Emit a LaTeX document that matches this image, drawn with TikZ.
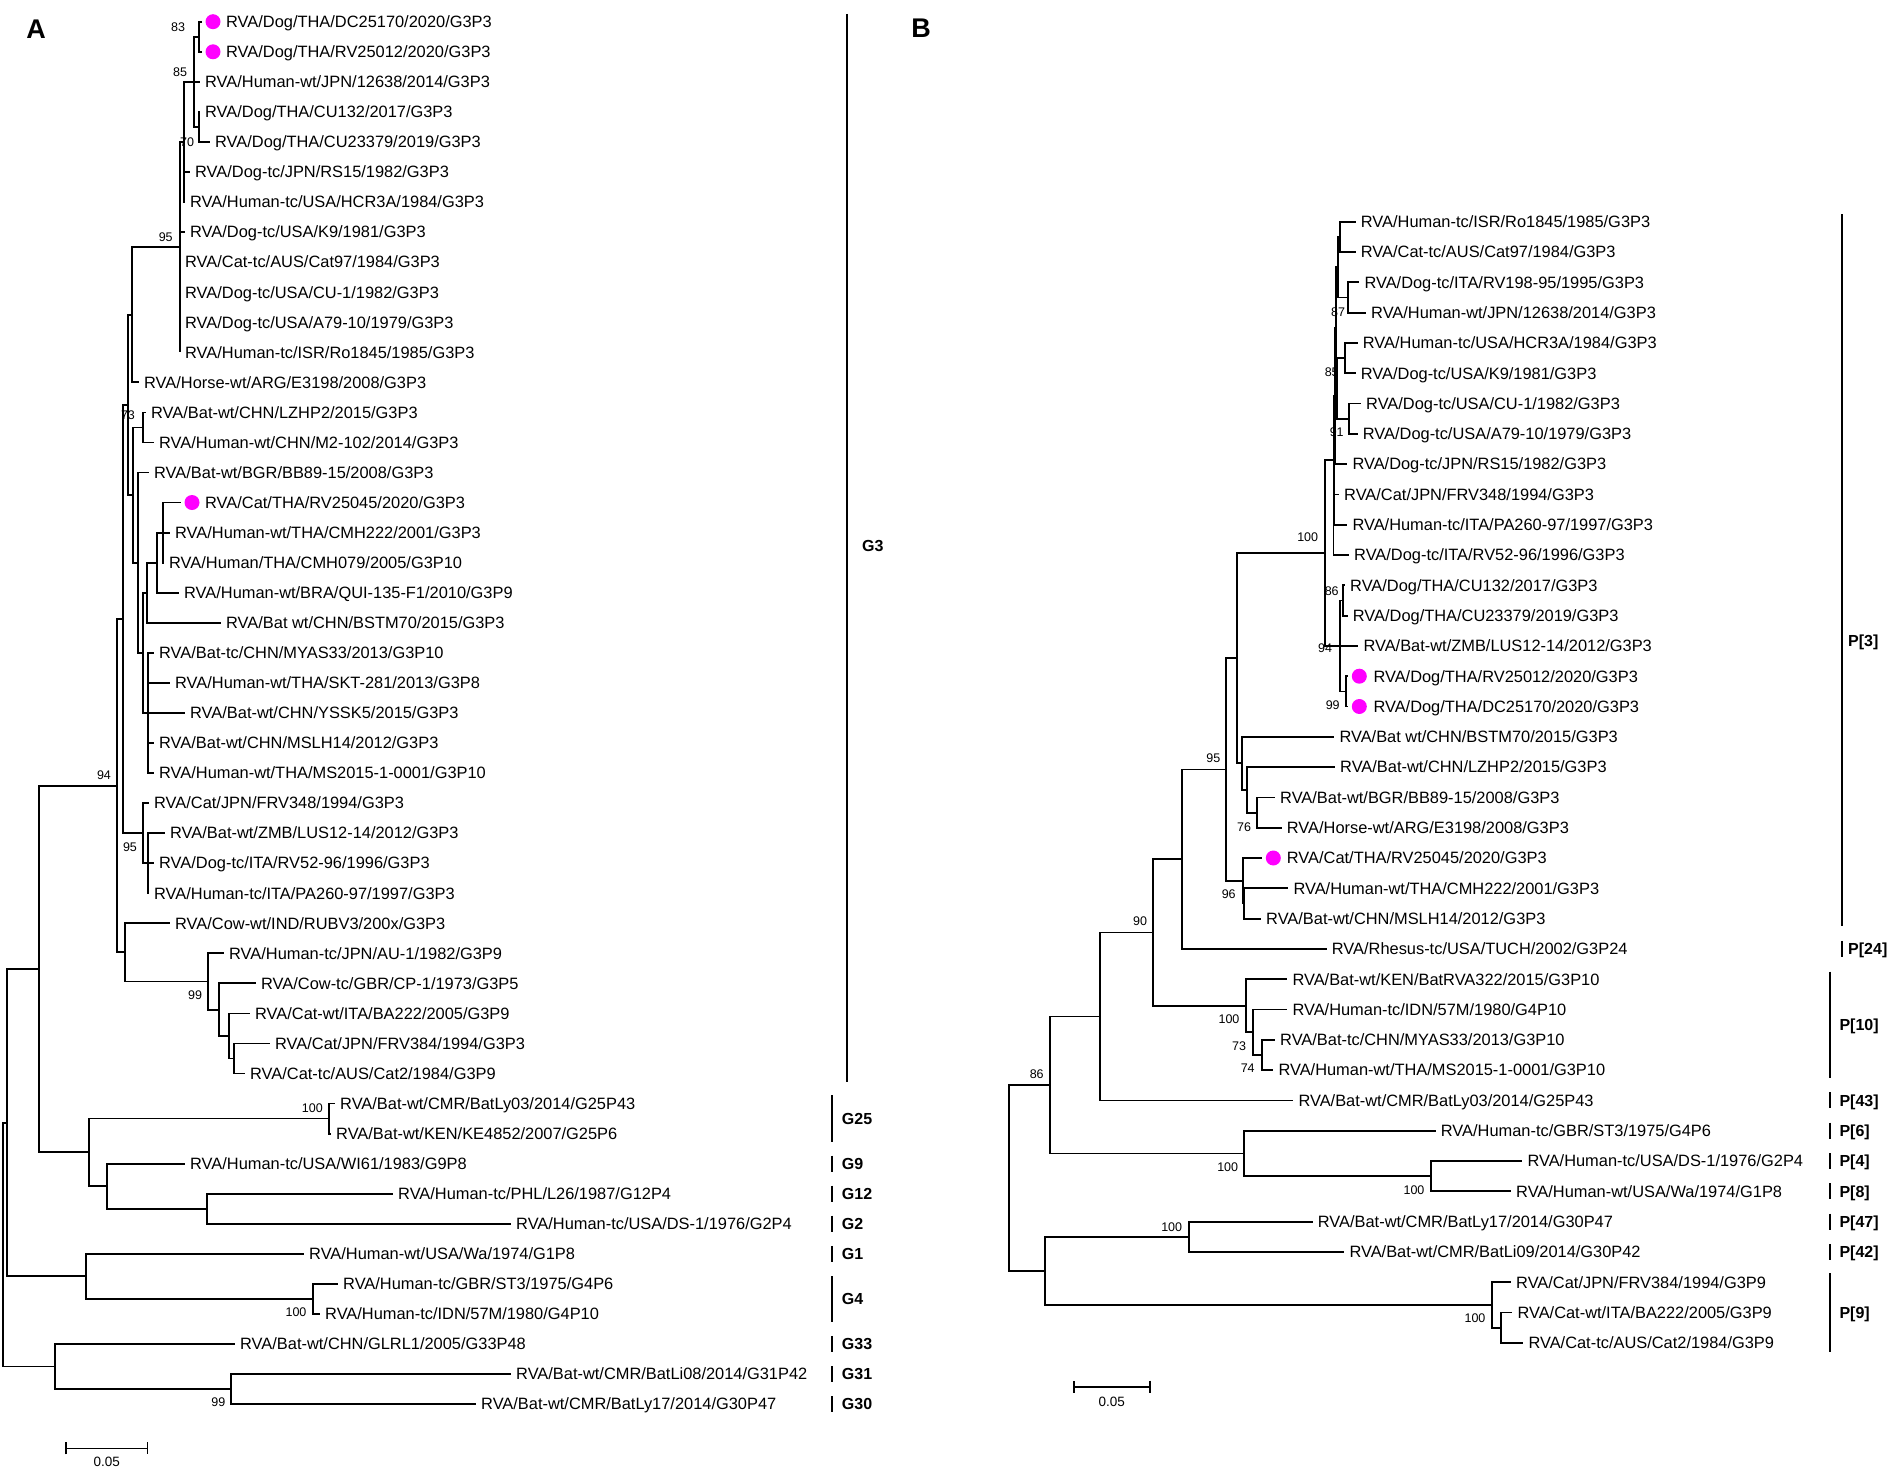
\documentclass[tikz,border=0pt]{standalone}
\usepackage{fontspec}
\setmainfont{Liberation Sans}
\usetikzlibrary{arrows.meta}
\definecolor{dotpink}{RGB}{255,0,255}
\tikzset{
  elbow/.style={line width=1.8pt,to path={|- (\tikztotarget) \tikztonodes}},
  leaf/.style={anchor=west,inner xsep=5pt,inner ysep=0pt,text height=11.7pt,text depth=0pt,font=\fontsize{16.4}{18}\selectfont},
  boot/.style={inner sep=0pt,text height=9pt,text depth=0pt,font=\fontsize{12.5}{14}\selectfont},
  pinkdot/.style={circle,fill=dotpink,inner sep=0pt,minimum size=15pt,outer sep=4pt},
  cladelab/.style={anchor=west,inner sep=0pt,text height=11.5pt,text depth=0pt,font=\fontsize{16}{18}\selectfont\bfseries},
  cbar/.style={line width=2pt},
  scalebar/.style={line width=1.6pt,arrows={Bar[width=12pt]-Bar[width=12pt]}},
  scalelab/.style={inner sep=0pt,font=\fontsize{13.5}{15}\selectfont},
  panel/.style={inner sep=0pt,font=\fontsize{27}{30}\selectfont\bfseries}
}
\begin{document}
\begin{tikzpicture}[x=1pt,y=-1pt,every edge/.append style={line width=1.8pt}]
  \useasboundingbox (0,0) rectangle (1889,1469);
  \node[panel] (pA) at (36,29) {A};
  \node[panel] (pB) at (921,28) {B};

  % panel A leaves
  \node[pinkdot] (a1d) at (213,21.7) {};
  \node[leaf] (a1) at (221,21.7) {RVA/Dog/THA/DC25170/2020/G3P3};
  \node[pinkdot] (a2d) at (213,51.8) {};
  \node[leaf] (a2) at (221,51.8) {RVA/Dog/THA/RV25012/2020/G3P3};
  \node[leaf] (a3) at (200,81.8) {RVA/Human-wt/JPN/12638/2014/G3P3};
  \node[leaf] (a4) at (200,111.9) {RVA/Dog/THA/CU132/2017/G3P3};
  \node[leaf] (a5) at (210,141.9) {RVA/Dog/THA/CU23379/2019/G3P3};
  \node[leaf] (a6) at (190,172.0) {RVA/Dog-tc/JPN/RS15/1982/G3P3};
  \node[leaf] (a7) at (185,202.0) {RVA/Human-tc/USA/HCR3A/1984/G3P3};
  \node[leaf] (a8) at (185,232.1) {RVA/Dog-tc/USA/K9/1981/G3P3};
  \node[leaf] (a9) at (180,262.1) {RVA/Cat-tc/AUS/Cat97/1984/G3P3};
  \node[leaf] (a10) at (180,292.2) {RVA/Dog-tc/USA/CU-1/1982/G3P3};
  \node[leaf] (a11) at (180,322.2) {RVA/Dog-tc/USA/A79-10/1979/G3P3};
  \node[leaf] (a12) at (180,352.3) {RVA/Human-tc/ISR/Ro1845/1985/G3P3};
  \node[leaf] (a13) at (139,382.3) {RVA/Horse-wt/ARG/E3198/2008/G3P3};
  \node[leaf] (a14) at (146,412.4) {RVA/Bat-wt/CHN/LZHP2/2015/G3P3};
  \node[leaf] (a15) at (154,442.4) {RVA/Human-wt/CHN/M2-102/2014/G3P3};
  \node[leaf] (a16) at (149,472.5) {RVA/Bat-wt/BGR/BB89-15/2008/G3P3};
  \node[pinkdot] (a17d) at (192,502.5) {};
  \node[leaf] (a17) at (200,502.5) {RVA/Cat/THA/RV25045/2020/G3P3};
  \node[leaf] (a18) at (170,532.6) {RVA/Human-wt/THA/CMH222/2001/G3P3};
  \node[leaf] (a19) at (164,562.6) {RVA/Human/THA/CMH079/2005/G3P10};
  \node[leaf] (a20) at (179,592.7) {RVA/Human-wt/BRA/QUI-135-F1/2010/G3P9};
  \node[leaf] (a21) at (221,622.7) {RVA/Bat wt/CHN/BSTM70/2015/G3P3};
  \node[leaf] (a22) at (154,652.8) {RVA/Bat-tc/CHN/MYAS33/2013/G3P10};
  \node[leaf] (a23) at (170,682.8) {RVA/Human-wt/THA/SKT-281/2013/G3P8};
  \node[leaf] (a24) at (185,712.9) {RVA/Bat-wt/CHN/YSSK5/2015/G3P3};
  \node[leaf] (a25) at (154,742.9) {RVA/Bat-wt/CHN/MSLH14/2012/G3P3};
  \node[leaf] (a26) at (154,773.0) {RVA/Human-wt/THA/MS2015-1-0001/G3P10};
  \node[leaf] (a27) at (149,803.0) {RVA/Cat/JPN/FRV348/1994/G3P3};
  \node[leaf] (a28) at (165,833.1) {RVA/Bat-wt/ZMB/LUS12-14/2012/G3P3};
  \node[leaf] (a29) at (154,863.1) {RVA/Dog-tc/ITA/RV52-96/1996/G3P3};
  \node[leaf] (a30) at (149,893.2) {RVA/Human-tc/ITA/PA260-97/1997/G3P3};
  \node[leaf] (a31) at (170,923.2) {RVA/Cow-wt/IND/RUBV3/200x/G3P3};
  \node[leaf] (a32) at (224,953.3) {RVA/Human-tc/JPN/AU-1/1982/G3P9};
  \node[leaf] (a33) at (256,983.3) {RVA/Cow-tc/GBR/CP-1/1973/G3P5};
  \node[leaf] (a34) at (250,1013.4) {RVA/Cat-wt/ITA/BA222/2005/G3P9};
  \node[leaf] (a35) at (270,1043.4) {RVA/Cat/JPN/FRV384/1994/G3P3};
  \node[leaf] (a36) at (245,1073.5) {RVA/Cat-tc/AUS/Cat2/1984/G3P9};
  \node[leaf] (a37) at (335,1103.5) {RVA/Bat-wt/CMR/BatLy03/2014/G25P43};
  \node[leaf] (a38) at (331,1133.6) {RVA/Bat-wt/KEN/KE4852/2007/G25P6};
  \node[leaf] (a39) at (185,1163.6) {RVA/Human-tc/USA/WI61/1983/G9P8};
  \node[leaf] (a40) at (393,1193.7) {RVA/Human-tc/PHL/L26/1987/G12P4};
  \node[leaf] (a41) at (511,1223.7) {RVA/Human-tc/USA/DS-1/1976/G2P4};
  \node[leaf] (a42) at (304,1253.8) {RVA/Human-wt/USA/Wa/1974/G1P8};
  \node[leaf] (a43) at (338,1283.8) {RVA/Human-tc/GBR/ST3/1975/G4P6};
  \node[leaf] (a44) at (320,1313.9) {RVA/Human-tc/IDN/57M/1980/G4P10};
  \node[leaf] (a45) at (235,1343.9) {RVA/Bat-wt/CHN/GLRL1/2005/G33P48};
  \node[leaf] (a46) at (511,1374.0) {RVA/Bat-wt/CMR/BatLi08/2014/G31P42};
  \node[leaf] (a47) at (476,1404.0) {RVA/Bat-wt/CMR/BatLy17/2014/G30P47};

  % panel A inner nodes
  \coordinate (a83) at (199,36.7);
  \coordinate (a70) at (199,126.9);
  \coordinate (a85) at (194.3,81.8);
  \coordinate (aRS) at (184.3,141.9);
  \coordinate (a95) at (180,247.1);
  \coordinate (aP1) at (132.3,314.7);
  \coordinate (aLZ) at (143.3,427.4);
  \coordinate (aR) at (163.3,532.6);
  \coordinate (aQ) at (157.3,562.6);
  \coordinate (aS) at (147.3,592.7);
  \coordinate (aU) at (147.7,712.9);
  \coordinate (aT) at (143.3,652.8);
  \coordinate (aBB) at (138.3,562.6);
  \coordinate (aP2) at (132.7,495.0);
  \coordinate (a73) at (128.3,404.9);
  \coordinate (aZ) at (147.7,863.1);
  \coordinate (a95b) at (143.3,833.1);
  \coordinate (aY) at (123.3,619.0);
  \coordinate (aC4) at (234.3,1058.4);
  \coordinate (aC3) at (229,1035.9);
  \coordinate (aC2) at (219.3,1009.6);
  \coordinate (a99) at (208.3,981.4);
  \coordinate (aV) at (125,952.3);
  \coordinate (a94) at (117.3,785.6);
  \coordinate (aG25) at (329,1118.5);
  \coordinate (aG2) at (207.3,1208.7);
  \coordinate (aG9) at (107.3,1186.1);
  \coordinate (aG) at (89,1152.3);
  \coordinate (aK) at (39,969.0);
  \coordinate (aG4) at (313.3,1298.8);
  \coordinate (aG1) at (85.7,1276.3);
  \coordinate (aJ) at (7.3,1122.6);
  \coordinate (aG30) at (230.7,1389.0);
  \coordinate (aG33) at (55,1366.4);
  \coordinate (aroot) at (2.7,1244.5);

  \path[elbow]
  (a83) edge (a1d) edge (a2d)
  (a70) edge (a4) edge (a5)
  (a85) edge (a83) edge (a3) edge (a70)
  (aRS) edge (a85) edge (a6) edge (a7)
  (a95) edge (aRS) edge (a8) edge (a9) edge (a10) edge (a11) edge (a12)
  (aP1) edge (a95) edge (a13)
  (aLZ) edge (a14) edge (a15)
  (aR) edge (a17d) edge (a18) edge (a19)
  (aQ) edge (aR) edge (a20)
  (aS) edge (aQ) edge (a21)
  (aU) edge (a22) edge (a23) edge (a24) edge (a25) edge (a26)
  (aT) edge (aS) edge (aU)
  (aBB) edge (a16) edge (aT)
  (aP2) edge (aLZ) edge (aBB)
  (a73) edge (aP1) edge (aP2)
  (aZ) edge (a28) edge (a29) edge (a30)
  (a95b) edge (a27) edge (aZ)
  (aY) edge (a73) edge (a95b)
  (aC4) edge (a35) edge (a36)
  (aC3) edge (a34) edge (aC4)
  (aC2) edge (a33) edge (aC3)
  (a99) edge (a32) edge (aC2)
  (aV) edge (a31) edge (a99)
  (a94) edge (aY) edge (aV)
  (aG25) edge (a37) edge (a38)
  (aG2) edge (a40) edge (a41)
  (aG9) edge (a39) edge (aG2)
  (aG) edge (aG25) edge (aG9)
  (aK) edge (a94) edge (aG)
  (aG4) edge (a43) edge (a44)
  (aG1) edge (a42) edge (aG4)
  (aJ) edge (aK) edge (aG1)
  (aG30) edge (a46) edge (a47)
  (aG33) edge (a45) edge (aG30)
  (aroot) edge (aJ) edge (aG33);

  % panel A support values
  \node[boot] (supA1) at (178,26.7) {83};
  \node[boot] (supA2) at (180,72) {85};
  \node[boot] (supA3) at (187,142) {70};
  \node[boot] (supA4) at (165.7,236.7) {95};
  \node[boot] (supA5) at (128,415) {73};
  \node[boot] (supA6) at (104,775) {94};
  \node[boot] (supA7) at (130,847) {95};
  \node[boot] (supA8) at (195,995) {99};
  \node[boot] (supA9) at (312.3,1108.3) {100};
  \node[boot] (supA10) at (296,1312.3) {100};
  \node[boot] (supA11) at (218.3,1402.3) {99};

  % panel A genotype bars
  \draw[cbar] (847,14) -- (847,1082);
  \node[cladelab] (gA1) at (862,546) {G3};
  \draw[cbar] (832.3,1095) -- (832.3,1142);
  \node[cladelab] (gA2) at (841.7,1118.5) {G25};
  \draw[cbar] (832.3,1155.6) -- (832.3,1171.6);
  \node[cladelab] (gA3) at (841.7,1163.6) {G9};
  \draw[cbar] (832.3,1185.7) -- (832.3,1201.7);
  \node[cladelab] (gA4) at (841.7,1193.7) {G12};
  \draw[cbar] (832.3,1215.7) -- (832.3,1231.7);
  \node[cladelab] (gA5) at (841.7,1223.7) {G2};
  \draw[cbar] (832.3,1245.8) -- (832.3,1261.8);
  \node[cladelab] (gA6) at (841.7,1253.8) {G1};
  \draw[cbar] (832.3,1276) -- (832.3,1322);
  \node[cladelab] (gA7) at (841.7,1298.8) {G4};
  \draw[cbar] (832.3,1335.9) -- (832.3,1351.9);
  \node[cladelab] (gA8) at (841.7,1343.9) {G33};
  \draw[cbar] (832.3,1366) -- (832.3,1382);
  \node[cladelab] (gA9) at (841.7,1374) {G31};
  \draw[cbar] (832.3,1396) -- (832.3,1412);
  \node[cladelab] (gA10) at (841.7,1404) {G30};

  \draw[scalebar] (65,1448.3) -- (148.3,1448.3);
  \node[scalelab] (sA) at (106.7,1462) {0.05};

  % panel B leaves
  \node[leaf] (b1) at (1355.7,221.7) {RVA/Human-tc/ISR/Ro1845/1985/G3P3};
  \node[leaf] (b2) at (1355.7,252.0) {RVA/Cat-tc/AUS/Cat97/1984/G3P3};
  \node[leaf] (b3) at (1359.3,282.3) {RVA/Dog-tc/ITA/RV198-95/1995/G3P3};
  \node[leaf] (b4) at (1366,312.6) {RVA/Human-wt/JPN/12638/2014/G3P3};
  \node[leaf] (b5) at (1357.7,342.9) {RVA/Human-tc/USA/HCR3A/1984/G3P3};
  \node[leaf] (b6) at (1355.7,373.2) {RVA/Dog-tc/USA/K9/1981/G3P3};
  \node[leaf] (b7) at (1361,403.5) {RVA/Dog-tc/USA/CU-1/1982/G3P3};
  \node[leaf] (b8) at (1357.7,433.8) {RVA/Dog-tc/USA/A79-10/1979/G3P3};
  \node[leaf] (b9) at (1347.3,464.1) {RVA/Dog-tc/JPN/RS15/1982/G3P3};
  \node[leaf] (b10) at (1339,494.4) {RVA/Cat/JPN/FRV348/1994/G3P3};
  \node[leaf] (b11) at (1347.3,524.7) {RVA/Human-tc/ITA/PA260-97/1997/G3P3};
  \node[leaf] (b12) at (1349,555.0) {RVA/Dog-tc/ITA/RV52-96/1996/G3P3};
  \node[leaf] (b13) at (1345,585.3) {RVA/Dog/THA/CU132/2017/G3P3};
  \node[leaf] (b14) at (1347.7,615.6) {RVA/Dog/THA/CU23379/2019/G3P3};
  \node[leaf] (b15) at (1358.3,645.9) {RVA/Bat-wt/ZMB/LUS12-14/2012/G3P3};
  \node[pinkdot] (b16d) at (1359.3,676.2) {};
  \node[leaf] (b16) at (1368.3,676.2) {RVA/Dog/THA/RV25012/2020/G3P3};
  \node[pinkdot] (b17d) at (1359.3,706.5) {};
  \node[leaf] (b17) at (1368.3,706.5) {RVA/Dog/THA/DC25170/2020/G3P3};
  \node[leaf] (b18) at (1334.3,736.8) {RVA/Bat wt/CHN/BSTM70/2015/G3P3};
  \node[leaf] (b19) at (1335,767.1) {RVA/Bat-wt/CHN/LZHP2/2015/G3P3};
  \node[leaf] (b20) at (1275,797.4) {RVA/Bat-wt/BGR/BB89-15/2008/G3P3};
  \node[leaf] (b21) at (1281.7,827.7) {RVA/Horse-wt/ARG/E3198/2008/G3P3};
  \node[pinkdot] (b22d) at (1273.3,858.0) {};
  \node[leaf] (b22) at (1281.7,858.0) {RVA/Cat/THA/RV25045/2020/G3P3};
  \node[leaf] (b23) at (1288.3,888.3) {RVA/Human-wt/THA/CMH222/2001/G3P3};
  \node[leaf] (b24) at (1261,918.6) {RVA/Bat-wt/CHN/MSLH14/2012/G3P3};
  \node[leaf] (b25) at (1326.7,948.9) {RVA/Rhesus-tc/USA/TUCH/2002/G3P24};
  \node[leaf] (b26) at (1287.3,979.2) {RVA/Bat-wt/KEN/BatRVA322/2015/G3P10};
  \node[leaf] (b27) at (1287.3,1009.5) {RVA/Human-tc/IDN/57M/1980/G4P10};
  \node[leaf] (b28) at (1275,1039.8) {RVA/Bat-tc/CHN/MYAS33/2013/G3P10};
  \node[leaf] (b29) at (1273.3,1070.1) {RVA/Human-wt/THA/MS2015-1-0001/G3P10};
  \node[leaf] (b30) at (1293.3,1100.4) {RVA/Bat-wt/CMR/BatLy03/2014/G25P43};
  \node[leaf] (b31) at (1435.7,1130.7) {RVA/Human-tc/GBR/ST3/1975/G4P6};
  \node[leaf] (b32) at (1522.3,1161.0) {RVA/Human-tc/USA/DS-1/1976/G2P4};
  \node[leaf] (b33) at (1511,1191.3) {RVA/Human-wt/USA/Wa/1974/G1P8};
  \node[leaf] (b34) at (1312.7,1221.6) {RVA/Bat-wt/CMR/BatLy17/2014/G30P47};
  \node[leaf] (b35) at (1344.3,1251.9) {RVA/Bat-wt/CMR/BatLi09/2014/G30P42};
  \node[leaf] (b36) at (1511,1282.2) {RVA/Cat/JPN/FRV384/1994/G3P9};
  \node[leaf] (b37) at (1512.3,1312.5) {RVA/Cat-wt/ITA/BA222/2005/G3P9};
  \node[leaf] (b38) at (1523.3,1342.8) {RVA/Cat-tc/AUS/Cat2/1984/G3P9};

  % panel B inner nodes
  \coordinate (bA) at (1340,236.9);
  \coordinate (bB) at (1348.3,297.5);
  \coordinate (bS1) at (1338,267.2);
  \coordinate (bC) at (1345,358.1);
  \coordinate (bD) at (1349.3,418.7);
  \coordinate (bS2) at (1337,388.4);
  \coordinate (bT1) at (1336,327.8);
  \coordinate (bT2) at (1335,395.9);
  \coordinate (bE) at (1333.5,524.7);
  \coordinate (bT3) at (1334,460.3);
  \coordinate (b86) at (1343.3,600.5);
  \coordinate (b99) at (1346,691.4);
  \coordinate (b94) at (1340,645.9);
  \coordinate (b100) at (1325,553.1);
  \coordinate (bL) at (1256.7,812.6);
  \coordinate (bK) at (1246.7,789.8);
  \coordinate (bJ) at (1241.7,763.3);
  \coordinate (bI) at (1236.7,658.2);
  \coordinate (bM) at (1244.3,903.5);
  \coordinate (b96) at (1242.7,880.7);
  \coordinate (b95) at (1226,769.5);
  \coordinate (bR) at (1181.7,859.2);
  \coordinate (bP3) at (1261.7,1055.0);
  \coordinate (bP2) at (1252.7,1032.2);
  \coordinate (bP1) at (1246,1005.7);
  \coordinate (b90) at (1153.3,932.5);
  \coordinate (bH) at (1100,1016.4);
  \coordinate (bW) at (1430.7,1176.2);
  \coordinate (bV) at (1244.3,1153.4);
  \coordinate (b86r) at (1050,1084.9);
  \coordinate (bX) at (1189,1236.8);
  \coordinate (bY2) at (1500.7,1327.7);
  \coordinate (bY) at (1491.7,1304.9);
  \coordinate (bZ) at (1045,1270.8);
  \coordinate (broot) at (1009.3,1177.9);

  \path[elbow]
  (bA) edge (b1) edge (b2)
  (bB) edge (b3) edge (b4)
  (bS1) edge (bA) edge (bB)
  (bC) edge (b5) edge (b6)
  (bD) edge (b7) edge (b8)
  (bS2) edge (bC) edge (bD)
  (bT1) edge (bS1) edge (bS2)
  (bT2) edge (bT1) edge (b9)
  (bE) edge (b10) edge (b11) edge (b12)
  (bT3) edge (bT2) edge (bE)
  (b86) edge (b13) edge (b14)
  (b99) edge (b16d) edge (b17d)
  (b94) edge (b86) edge (b15) edge (b99)
  (b100) edge (bT3) edge (b94)
  (bL) edge (b20) edge (b21)
  (bK) edge (b19) edge (bL)
  (bJ) edge (b18) edge (bK)
  (bI) edge (b100) edge (bJ)
  (bM) edge (b23) edge (b24)
  (b96) edge (b22d) edge (bM)
  (b95) edge (bI) edge (b96)
  (bR) edge (b95) edge (b25)
  (bP3) edge (b28) edge (b29)
  (bP2) edge (b27) edge (bP3)
  (bP1) edge (b26) edge (bP2)
  (b90) edge (bR) edge (bP1)
  (bH) edge (b90) edge (b30)
  (bW) edge (b32) edge (b33)
  (bV) edge (b31) edge (bW)
  (b86r) edge (bH) edge (bV)
  (bX) edge (b34) edge (b35)
  (bY2) edge (b37) edge (b38)
  (bY) edge (b36) edge (bY2)
  (bZ) edge (bX) edge (bY)
  (broot) edge (b86r) edge (bZ);

  % panel B support values
  \node[boot] (supB1) at (1338,311.7) {87};
  \node[boot] (supB2) at (1331.7,371.7) {85};
  \node[boot] (supB3) at (1336.7,431.7) {91};
  \node[boot] (supB4) at (1307.7,536.7) {100};
  \node[boot] (supB5) at (1331.7,590.7) {86};
  \node[boot] (supB6) at (1325,647.7) {94};
  \node[boot] (supB7) at (1332.7,705) {99};
  \node[boot] (supB8) at (1213.3,758.3) {95};
  \node[boot] (supB9) at (1244,826.7) {76};
  \node[boot] (supB10) at (1228.7,894.3) {96};
  \node[boot] (supB11) at (1140,921) {90};
  \node[boot] (supB12) at (1229,1019.3) {100};
  \node[boot] (supB13) at (1239,1046) {73};
  \node[boot] (supB14) at (1247.7,1068.3) {74};
  \node[boot] (supB15) at (1036.7,1074.3) {86};
  \node[boot] (supB16) at (1227.7,1167.3) {100};
  \node[boot] (supB17) at (1414,1190) {100};
  \node[boot] (supB18) at (1171.7,1226.7) {100};
  \node[boot] (supB19) at (1475,1318.3) {100};

  % panel B genotype bars
  \draw[cbar] (1842,214) -- (1842,926);
  \node[cladelab] (gB1) at (1848,641) {P[3]};
  \draw[cbar] (1842,940.9) -- (1842,956.9);
  \node[cladelab] (gB2) at (1848,948.9) {P[24]};
  \draw[cbar] (1830,971.7) -- (1830,1078.3);
  \node[cladelab] (gB3) at (1839.3,1024.7) {P[10]};
  \draw[cbar] (1830,1092.4) -- (1830,1108.4);
  \node[cladelab] (gB4) at (1839.3,1100.4) {P[43]};
  \draw[cbar] (1830,1122.7) -- (1830,1138.7);
  \node[cladelab] (gB5) at (1839.3,1130.7) {P[6]};
  \draw[cbar] (1830,1153) -- (1830,1169);
  \node[cladelab] (gB6) at (1839.3,1161) {P[4]};
  \draw[cbar] (1830,1183.3) -- (1830,1199.3);
  \node[cladelab] (gB7) at (1839.3,1191.3) {P[8]};
  \draw[cbar] (1830,1213.6) -- (1830,1229.6);
  \node[cladelab] (gB8) at (1839.3,1221.6) {P[47]};
  \draw[cbar] (1830,1243.9) -- (1830,1259.9);
  \node[cladelab] (gB9) at (1839.3,1251.9) {P[42]};
  \draw[cbar] (1830,1273) -- (1830,1351.7);
  \node[cladelab] (gB10) at (1839.3,1312.5) {P[9]};

  \draw[scalebar] (1073.3,1386.7) -- (1150.7,1386.7);
  \node[scalelab] (sB) at (1111.7,1401.7) {0.05};
\end{tikzpicture}
\end{document}
